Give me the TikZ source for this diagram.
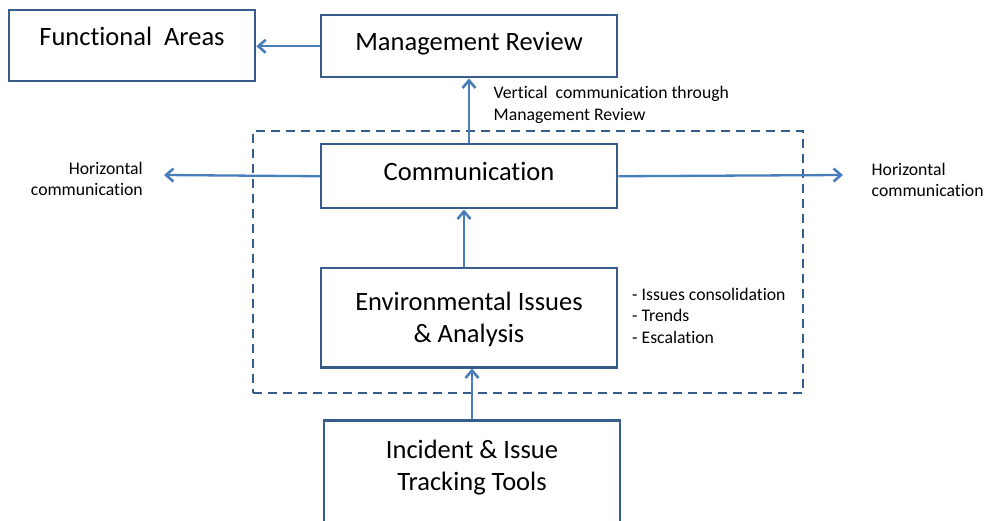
\documentclass[tikz,border=0pt]{standalone}
\usepackage{fontspec}
\setmainfont{Carlito}[Ligatures={NoCommon}]
\usetikzlibrary{arrows.meta}
\definecolor{boxline}{HTML}{385D8A}
\definecolor{arrowline}{HTML}{4A7EBB}
\tikzset{
  boxnode/.style={draw=boxline, line width=2.5pt, fill=white, inner xsep=0pt, inner ysep=0pt,
    align=center, font=\fontsize{26.5}{32}\selectfont},
  arr/.style={draw=arrowline, line width=2.3pt,
    -{Straight Barb[length=7.5pt, width=13pt, line width=2.6pt]}},
  small/.style={inner sep=0pt, font=\fontsize{17.7}{21.5}\selectfont},
}
\begin{document}
\begin{tikzpicture}[x=1pt, y=-1pt]
\useasboundingbox (0,0) rectangle (985,521);

% dashed grouping frame
\node[draw=boxline, line width=2.5pt, dash pattern=on 9pt off 6pt, minimum width=550pt,
  minimum height=262pt, inner sep=0pt] (grp) at (528,262) {};

% boxes (text height/depth place the last baseline inside each box)
\node[boxnode, minimum width=246pt, text height=35pt, text depth=36pt] (fa) at (132,9) [anchor=north] {Functional\ \ Areas};
\node[boxnode, minimum width=296pt, text height=35pt, text depth=27pt] (mr) at (469,14) [anchor=north] {Management Review};
\node[boxnode, minimum width=296pt, text height=36pt, text depth=28pt] (comm) at (469,143) [anchor=north] {Communication};
\node[boxnode, minimum width=296pt, text height=74pt, text depth=25pt] (env) at (469,267) [anchor=north] {Environmental Issues\\\& Analysis};
\node[boxnode, minimum width=296pt, text height=70pt, text depth=51pt] (inc) at (472,419) [anchor=north] {Incident \& Issue\\Tracking Tools};

% side labels (anchored at the baseline of their last line)
\node[small, align=left, anchor=base west] (vlab) at (493.5,120.5) {Vertical\ \ communication through\\Management Review};
\node[small, align=right, anchor=base east] (hleft) at (143,196) {Horizontal\\communication};
\node[small, align=left, anchor=base west] (hright) at (871.5,197) {Horizontal\\communication};
\node[small, align=left, anchor=base west] (steps) at (632,343.3) {- Issues consolidation\\- Trends\\- Escalation};

% free ends of the horizontal arrows
\coordinate (hlend) at (164,175);
\coordinate (hrend) at (843,175);

% connectors
\draw[arr] (mr.west) -- (fa.east |- mr.west);
\draw[arr] (comm.north) -- (mr.south);
\draw[arr] (comm.west) -- (hlend);
\draw[arr] (comm.east) -- (hrend);
\draw[arr] ([xshift=-5pt]env.north) -- ([xshift=-5pt]comm.south);
\draw[arr] (inc.north) -- (inc.north |- env.south);
\end{tikzpicture}
\end{document}
